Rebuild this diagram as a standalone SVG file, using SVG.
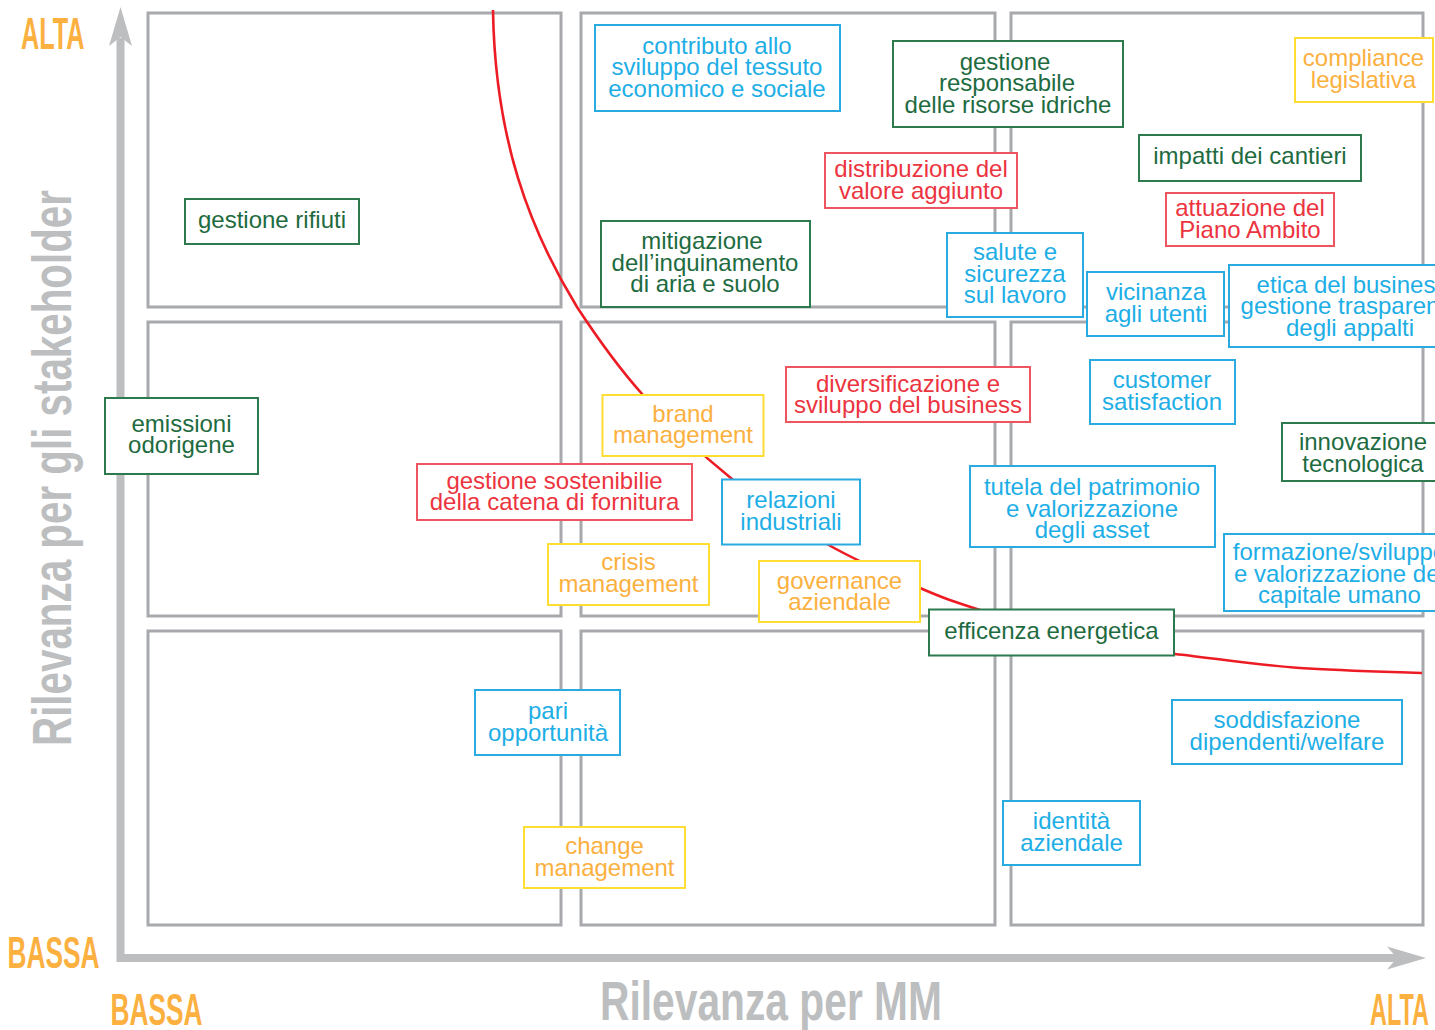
<svg xmlns="http://www.w3.org/2000/svg" width="1435" height="1030" viewBox="0 0 1435 1030">
  <style>
    .cell { fill: none; stroke: #a7a9ac; stroke-width: 3; }
    .axis { fill: none; stroke: #bcbec0; stroke-width: 8; stroke-linejoin: miter; }
    .head { fill: #bcbec0; }
    .lvl { font-family: "Liberation Sans", Arial, Helvetica, sans-serif; font-weight: bold; font-size: 45px; fill: #fbb040; }
    .ttl { font-family: "Liberation Sans", Arial, Helvetica, sans-serif; font-weight: bold; font-size: 56px; fill: #bcbec0; }
    .curve { fill: none; stroke: #ed1c24; stroke-width: 2.6; }
    .node rect { fill: #ffffff; stroke-width: 2; }
    .node text { font-family: "Liberation Sans", Arial, Helvetica, sans-serif; font-size: 24px; text-anchor: middle; }
    .bl rect { stroke: #29abe2; } .bl text { fill: #1eaee6; }
    .gr rect { stroke: #2d7a4e; } .gr text { fill: #1e6b3f; }
    .rd rect { stroke: #ef5560; } .rd text { fill: #ec3440; }
    .or rect { stroke: #ffdd33; } .or text { fill: #fbb040; }
  </style>

  <!-- 3x3 materiality grid -->
  <g id="grid">
    <rect class="cell" x="148" y="13" width="413" height="294"/>
    <rect class="cell" x="581" y="13" width="414" height="294"/>
    <rect class="cell" x="1011" y="13" width="412" height="294"/>
    <rect class="cell" x="148" y="322" width="413" height="294"/>
    <rect class="cell" x="581" y="322" width="414" height="294"/>
    <rect class="cell" x="1011" y="322" width="412" height="294"/>
    <rect class="cell" x="148" y="631" width="413" height="294"/>
    <rect class="cell" x="581" y="631" width="414" height="294"/>
    <rect class="cell" x="1011" y="631" width="412" height="294"/>
  </g>

  <!-- axes -->
  <g id="axes">
    <path class="axis" d="M120.5,38 V958 H1400"/>
    <polygon class="head" points="120.5,7 132,46 120.5,37 109,46"/>
    <polygon class="head" points="1426,958 1387,969.5 1397,958 1387,946.5"/>
    <text class="lvl" x="21" y="48.5" textLength="63.5" lengthAdjust="spacingAndGlyphs">ALTA</text>
    <text class="lvl" x="7.5" y="967.5" textLength="92" lengthAdjust="spacingAndGlyphs">BASSA</text>
    <text class="lvl" x="110.5" y="1024.5" textLength="92" lengthAdjust="spacingAndGlyphs">BASSA</text>
    <text class="lvl" x="1370" y="1025" textLength="59" lengthAdjust="spacingAndGlyphs">ALTA</text>
    <text class="ttl" x="600" y="1020" textLength="342" lengthAdjust="spacingAndGlyphs">Rilevanza per MM</text>
    <text class="ttl" transform="translate(71,746) rotate(-90)" x="0" y="0" textLength="556" lengthAdjust="spacingAndGlyphs">Rilevanza per gli stakeholder</text>
  </g>

  <!-- materiality threshold curve -->
  <g id="threshold">
    <path class="curve" d="M493,10 C495,140 530,230 577,307 C596.7,337 617.2,366.3 643,395 C668.8,423.7 701.3,454.2 732,479 C762.7,503.8 795.7,525.8 827,544 C858.3,562.2 894.5,577 920,588 C945.5,599 953.8,601.7 980,610 C1006.2,618.3 1044.5,630.3 1077,638 C1109.5,645.7 1137.8,650 1175,654 C1212.2,658 1258.8,665.2 1300,668 C1341.2,670.8 1401.7,672.2 1422,673"/>
  </g>

  <!-- topics -->
  <g id="node-contributo" class="node bl">
    <rect x="595" y="25" width="245" height="86"/>
    <text><tspan x="717" y="53.5">contributo allo</tspan><tspan x="717" y="75">sviluppo del tessuto</tspan><tspan x="717" y="96.5">economico e sociale</tspan></text>
  </g>
  <g id="node-risorse-idriche" class="node gr">
    <rect x="893" y="41" width="230" height="86"/>
    <text><tspan x="1005" y="69.5">gestione</tspan><tspan x="1007" y="91">responsabile</tspan><tspan x="1008" y="112.5">delle risorse idriche</tspan></text>
  </g>
  <g id="node-compliance" class="node or">
    <rect x="1295" y="38" width="138" height="64"/>
    <text><tspan x="1363.5" y="66">compliance</tspan><tspan x="1363.5" y="87.5">legislativa</tspan></text>
  </g>
  <g id="node-cantieri" class="node gr">
    <rect x="1139" y="135" width="222" height="46"/>
    <text><tspan x="1250" y="163.5">impatti dei cantieri</tspan></text>
  </g>
  <g id="node-valore-aggiunto" class="node rd">
    <rect x="825" y="153" width="192" height="55"/>
    <text><tspan x="921" y="177">distribuzione del</tspan><tspan x="921" y="198.5">valore aggiunto</tspan></text>
  </g>
  <g id="node-piano-ambito" class="node rd">
    <rect x="1166" y="193" width="168" height="53"/>
    <text><tspan x="1250" y="216">attuazione del</tspan><tspan x="1250" y="237.5">Piano Ambito</tspan></text>
  </g>
  <g id="node-rifiuti" class="node gr">
    <rect x="185" y="199" width="174" height="45"/>
    <text><tspan x="272" y="228">gestione rifiuti</tspan></text>
  </g>
  <g id="node-inquinamento" class="node gr">
    <rect x="601" y="221" width="209" height="86"/>
    <text><tspan x="702" y="249">mitigazione</tspan><tspan x="705" y="270.5">dell’inquinamento</tspan><tspan x="705" y="292">di aria e suolo</tspan></text>
  </g>
  <g id="node-salute" class="node bl">
    <rect x="947" y="233" width="136" height="84"/>
    <text><tspan x="1015" y="260">salute e</tspan><tspan x="1015" y="281.5">sicurezza</tspan><tspan x="1015" y="303">sul lavoro</tspan></text>
  </g>
  <g id="node-vicinanza" class="node bl">
    <rect x="1087" y="272" width="137" height="64"/>
    <text><tspan x="1156" y="300">vicinanza</tspan><tspan x="1156" y="321.5">agli utenti</tspan></text>
  </g>
  <g id="node-etica" class="node bl">
    <rect x="1229" y="265" width="240" height="82"/>
    <text><tspan x="1352" y="292.5">etica del business</tspan><tspan x="1350" y="314">gestione trasparente</tspan><tspan x="1350" y="335.5">degli appalti</tspan></text>
  </g>
  <g id="node-customer" class="node bl">
    <rect x="1090" y="360" width="145" height="64"/>
    <text><tspan x="1162" y="388">customer</tspan><tspan x="1162" y="409.5">satisfaction</tspan></text>
  </g>
  <g id="node-innovazione" class="node gr">
    <rect x="1282" y="423" width="165" height="58"/>
    <text><tspan x="1363" y="450">innovazione</tspan><tspan x="1363" y="471.5">tecnologica</tspan></text>
  </g>
  <g id="node-diversificazione" class="node rd">
    <rect x="786" y="367" width="244" height="55"/>
    <text><tspan x="908" y="391.5">diversificazione e</tspan><tspan x="908" y="413">sviluppo del business</tspan></text>
  </g>
  <g id="node-brand" class="node or">
    <rect x="602.5" y="395" width="161" height="61"/>
    <text><tspan x="683" y="421.5">brand</tspan><tspan x="683" y="443">management</tspan></text>
  </g>
  <g id="node-emissioni" class="node gr">
    <rect x="105" y="398" width="153" height="76"/>
    <text><tspan x="181.5" y="431.5">emissioni</tspan><tspan x="181.5" y="453">odorigene</tspan></text>
  </g>
  <g id="node-fornitura" class="node rd">
    <rect x="417" y="464" width="275" height="56"/>
    <text><tspan x="554.5" y="488.5">gestione sostenibilie</tspan><tspan x="554.5" y="510">della catena di fornitura</tspan></text>
  </g>
  <g id="node-relazioni" class="node bl">
    <rect x="722" y="479.5" width="138" height="65"/>
    <text><tspan x="791" y="507.5">relazioni</tspan><tspan x="791" y="529.5">industriali</tspan></text>
  </g>
  <g id="node-patrimonio" class="node bl">
    <rect x="970" y="466" width="245" height="81"/>
    <text><tspan x="1092" y="495">tutela del patrimonio</tspan><tspan x="1092" y="516.5">e valorizzazione</tspan><tspan x="1092" y="538">degli asset</tspan></text>
  </g>
  <g id="node-crisis" class="node or">
    <rect x="548" y="544" width="161" height="61"/>
    <text><tspan x="628.5" y="569.5">crisis</tspan><tspan x="628.5" y="591.5">management</tspan></text>
  </g>
  <g id="node-governance" class="node or">
    <rect x="759" y="561" width="161" height="61"/>
    <text><tspan x="839.5" y="589">governance</tspan><tspan x="839.5" y="610">aziendale</tspan></text>
  </g>
  <g id="node-efficienza" class="node gr">
    <rect x="929" y="609.5" width="245" height="46"/>
    <text><tspan x="1051.5" y="638.5">efficenza energetica</tspan></text>
  </g>
  <g id="node-formazione" class="node bl">
    <rect x="1224" y="534" width="235" height="77"/>
    <text><tspan x="1339.5" y="559.5">formazione/sviluppo</tspan><tspan x="1339.5" y="581.5">e valorizzazione del</tspan><tspan x="1339.5" y="603">capitale umano</tspan></text>
  </g>
  <g id="node-welfare" class="node bl">
    <rect x="1172" y="700" width="230" height="64"/>
    <text><tspan x="1287" y="728">soddisfazione</tspan><tspan x="1287" y="749.5">dipendenti/welfare</tspan></text>
  </g>
  <g id="node-identita" class="node bl">
    <rect x="1003" y="801" width="137" height="64"/>
    <text><tspan x="1071.5" y="829">identità</tspan><tspan x="1071.5" y="851">aziendale</tspan></text>
  </g>
  <g id="node-pari" class="node bl">
    <rect x="475" y="690" width="145" height="65"/>
    <text><tspan x="548" y="719">pari</tspan><tspan x="548" y="741">opportunità</tspan></text>
  </g>
  <g id="node-change" class="node or">
    <rect x="524" y="827" width="161" height="61"/>
    <text><tspan x="604.5" y="854">change</tspan><tspan x="604.5" y="876">management</tspan></text>
  </g>
</svg>
